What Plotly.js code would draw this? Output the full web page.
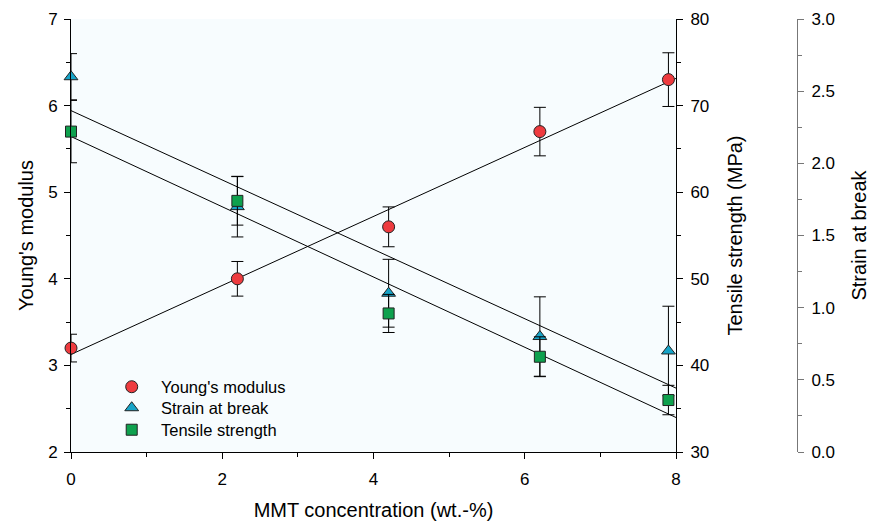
<!DOCTYPE html>
<html>
<head>
<meta charset="utf-8">
<script src="https://cdn.plot.ly/plotly-3.0.1.min.js"></script>
<style>html,body{margin:0;padding:0;background:#fff;}#chart{width:870px;height:521px;}</style>
</head>
<body>
<div id="chart"></div>
<script>
// MMT concentration (wt.-%)
const concentration = [0, 2.2, 4.2, 6.2, 7.9];
// Young's modulus (left axis)
const youngsModulus = [3.2, 4.0, 4.6, 5.7, 6.3];
const youngsErr = [0.16, 0.2, 0.23, 0.28, 0.31];
// Strain at break (far right axis)
const strainAtBreak = [2.60, 1.70, 1.10, 0.80, 0.70];
const strainErr = [0.16, 0.21, 0.235, 0.275, 0.31];
// Tensile strength, MPa (inner right axis)
const tensileStrength = [67, 59, 46, 41, 36];
const tensileErr = [3.6, 2.8, 2.2, 2.3, 1.7];
// regression line x extent
const fitRange = [0, 8];

function linFit(xs, ys) {
  const n = xs.length;
  const mx = xs.reduce((a, b) => a + b, 0) / n;
  const my = ys.reduce((a, b) => a + b, 0) / n;
  let sxy = 0, sxx = 0;
  for (let i = 0; i < n; i++) { sxy += (xs[i] - mx) * (ys[i] - my); sxx += (xs[i] - mx) * (xs[i] - mx); }
  const m = sxy / sxx, b = my - m * mx;
  return fitRange.map(x => m * x + b);
}

const FONT = 'Liberation Sans, Arial, sans-serif';
const lineStyle = {color: '#000', width: 1};
const errStyle = (arr) => ({type: 'data', array: arr, visible: true, color: '#000', thickness: 1, width: 6});

const traces = [
  {x: fitRange, y: linFit(concentration, youngsModulus), yaxis: 'y', mode: 'lines', line: lineStyle, showlegend: false, hoverinfo: 'skip'},
  {x: fitRange, y: linFit(concentration, strainAtBreak), yaxis: 'y2', mode: 'lines', line: lineStyle, showlegend: false, hoverinfo: 'skip'},
  {x: fitRange, y: linFit(concentration, tensileStrength), yaxis: 'y3', mode: 'lines', line: lineStyle, showlegend: false, hoverinfo: 'skip'},
  {x: concentration, y: youngsModulus, yaxis: 'y', name: "Young's modulus", legend: 'legend', mode: 'markers', cliponaxis: false,
   error_y: errStyle(youngsErr),
   marker: {symbol: 'circle', size: 12, color: '#ee3b3f', line: {color: '#222', width: 1}}},
  {x: concentration, y: strainAtBreak, yaxis: 'y2', name: 'Strain at break', legend: 'legend2', mode: 'markers', cliponaxis: false,
   error_y: errStyle(strainErr),
   marker: {symbol: 'triangle-up', size: 12, color: '#17a4c8', line: {color: '#222', width: 1}}},
  {x: concentration, y: tensileStrength, yaxis: 'y3', name: 'Tensile strength', legend: 'legend3', mode: 'markers', cliponaxis: false,
   error_y: errStyle(tensileErr),
   marker: {symbol: 'square', size: 11, color: '#0ea14e', line: {color: '#222', width: 1}}}
];

const axisCommon = {
  showline: true, linecolor: '#000', linewidth: 1, showgrid: false, zeroline: false,
  ticks: 'outside', ticklen: 6, tickwidth: 1, tickcolor: '#000',
  tickfont: {family: FONT, size: 17, color: '#000'},
  automargin: false
};

const legendCommon = (y) => ({x: 0.0425, y: y, xanchor: 'left', yanchor: 'middle', bgcolor: 'rgba(0,0,0,0)',
  itemwidth: 48.6, font: {family: FONT, size: 16.5, color: '#000'}});

const layout = {
  width: 870, height: 521,
  margin: {l: 71, r: 60, t: 19, b: 69},
  paper_bgcolor: '#ffffff',
  plot_bgcolor: '#f7fcfe',
  font: {family: FONT, color: '#000'},
  showlegend: true,
  legend: legendCommon(0.1501),
  legend2: legendCommon(0.1016),
  legend3: legendCommon(0.0508),
  xaxis: Object.assign({}, axisCommon, {
    domain: [0, 0.81867], range: [0, 8], dtick: 2, tick0: 0, ticklabelstandoff: 6,
    minor: {dtick: 1, ticks: 'outside', ticklen: 4, tickcolor: '#000'},
    title: {text: 'MMT concentration (wt.-%)', font: {family: FONT, size: 20, color: '#000'}, standoff: 14}
  }),
  yaxis: Object.assign({}, axisCommon, {
    range: [2, 7], dtick: 1, tick0: 2, ticklabelstandoff: 3,
    minor: {dtick: 0.5, ticks: 'outside', ticklen: 4, tickcolor: '#000'},
    title: {text: "Young's modulus", font: {family: FONT, size: 20, color: '#000'}, standoff: 9}
  }),
  yaxis2: Object.assign({}, axisCommon, {
    overlaying: 'y', side: 'right', anchor: 'free', position: 0.98241, ticklabelstandoff: 4,
    range: [0, 3], dtick: 0.5, tick0: 0, tickformat: '.1f', linecolor: '#777', tickcolor: '#777',
    minor: {dtick: 0.25, ticks: 'outside', ticklen: 4, tickcolor: '#777'},
    title: {text: 'Strain at break', font: {family: FONT, size: 20, color: '#000'}, standoff: 21}
  }),
  yaxis3: Object.assign({}, axisCommon, {
    overlaying: 'y', side: 'right', anchor: 'x', ticklabelstandoff: 4,
    range: [30, 80], dtick: 10, tick0: 30,
    minor: {dtick: 5, ticks: 'outside', ticklen: 4, tickcolor: '#000'},
    title: {text: 'Tensile strength (MPa)', font: {family: FONT, size: 20, color: '#000'}, standoff: 19}
  })
};

Plotly.newPlot('chart', traces, layout, {displayModeBar: false, staticPlot: true});
</script>
</body>
</html>
